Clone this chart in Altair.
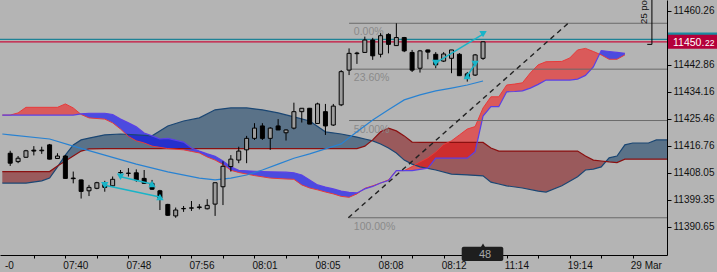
import altair as alt
import pandas as pd

# ---------------- data ----------------
candle_idx = list(range(61))
c_open = [11414.3, 11411.6, 11413.0, 11415.3, 11415.1, 11417.0, 11412.6, 11413.4, 11406.3, 11405.7,
          11402.2, 11403.0, 11404.2, 11403.8, 11408.0, 11407.8, 11408.0, 11406.2, 11404.6, 11402.2,
          11397.8, 11394.1, 11396.4, 11396.6, 11396.8, 11396.4, 11397.9, 11403.5, 11410.0, 11412.1,
          11415.4, 11419.1, 11423.1, 11419.1, 11423.1, 11420.9, 11422.4, 11427.7, 11428.8, 11423.9,
          11427.7, 11423.4, 11429.9, 11441.1, 11446.4, 11446.8, 11450.8, 11446.2, 11452.6, 11449.0,
          11451.6, 11446.8, 11441.7, 11447.6, 11446.2, 11444.0, 11444.9, 11446.2, 11439.9, 11439.5,
          11444.9]
c_high = [11415.1, 11413.4, 11415.4, 11416.6, 11416.4, 11417.3, 11414.3, 11413.7, 11408.4, 11405.8,
          11404.1, 11405.1, 11405.4, 11406.8, 11408.9, 11409.5, 11409.1, 11408.9, 11405.7, 11402.5,
          11398.0, 11396.8, 11397.3, 11398.9, 11397.9, 11399.5, 11404.8, 11411.7, 11413.7, 11416.4,
          11419.9, 11424.0, 11424.0, 11422.7, 11425.3, 11422.0, 11430.6, 11428.8, 11428.9, 11430.6,
          11430.2, 11430.2, 11441.1, 11448.1, 11447.0, 11451.9, 11451.5, 11453.0, 11453.0, 11456.2,
          11451.8, 11447.6, 11447.6, 11447.7, 11446.9, 11446.9, 11447.6, 11446.6, 11440.5, 11446.3,
          11450.4]
c_low = [11410.2, 11411.1, 11412.8, 11413.6, 11414.1, 11412.3, 11412.5, 11406.1, 11404.6, 11399.7,
         11400.5, 11402.7, 11401.9, 11403.5, 11407.3, 11406.8, 11405.1, 11404.5, 11402.5, 11396.0,
         11394.1, 11393.5, 11395.4, 11395.7, 11396.2, 11396.2, 11394.1, 11397.6, 11408.4, 11411.1,
         11411.1, 11418.6, 11418.6, 11415.4, 11421.8, 11418.4, 11422.0, 11424.2, 11423.7, 11423.9,
         11420.2, 11423.1, 11429.5, 11439.5, 11443.1, 11446.7, 11444.4, 11445.2, 11446.5, 11449.0,
         11446.9, 11440.5, 11440.3, 11444.6, 11441.7, 11443.7, 11440.1, 11439.2, 11437.4, 11439.2,
         11444.4]
c_close = [11411.1, 11412.7, 11415.1, 11415.0, 11415.3, 11412.4, 11413.4, 11406.2, 11406.1, 11402.0,
           11403.3, 11404.8, 11403.3, 11405.9, 11408.1, 11407.9, 11405.7, 11404.6, 11402.7, 11399.8,
           11394.3, 11396.0, 11396.5, 11396.7, 11397.0, 11397.5, 11404.8, 11410.1, 11412.4, 11415.0,
           11419.1, 11422.4, 11419.1, 11422.4, 11421.8, 11421.8, 11427.7, 11428.8, 11423.7, 11430.2,
           11423.1, 11429.5, 11440.6, 11446.5, 11446.6, 11450.8, 11445.7, 11452.2, 11449.4, 11451.6,
           11447.3, 11441.1, 11447.3, 11446.9, 11442.8, 11446.3, 11447.6, 11439.3, 11438.6, 11446.0,
           11450.22]

ma_idx = [-1, 0, 5, 8, 12, 16, 20, 24, 26, 28, 30, 32, 34, 36, 38, 40, 42, 44, 46, 48, 50, 52, 54, 56, 58, 60]
ma_val = [11420.5, 11420.2, 11418.9, 11416.6, 11413.7, 11410.8, 11408.3, 11406.3, 11405.7, 11406.3,
          11407.3, 11408.9, 11410.8, 11412.7, 11414.1, 11415.7, 11417.3, 11421.2, 11425.0, 11428.3,
          11431.5, 11433.1, 11434.4, 11435.3, 11436.3, 11437.6]

dark_idx = [-1, 0, 2, 4, 5, 6, 7, 8, 9, 10, 12, 14, 16, 18, 20, 22, 24, 26, 28, 30,
            32, 34, 36, 38, 40, 42, 44, 45, 46, 47, 48, 49, 50, 51, 52, 54, 56, 58, 60, 61,
            62, 63, 65, 67, 68, 70, 72, 73, 74, 75, 76, 77, 78, 79, 81, 82, 84]
span_a = [11404.7, 11404.7, 11404.7, 11405.4, 11406.3, 11409.9, 11413.7, 11417.0, 11418.6, 11419.2,
          11420.2, 11420.5, 11420.2, 11419.9, 11423.1, 11424.7, 11425.7, 11428.3, 11428.9, 11428.9,
          11428.3, 11427.3, 11426.0, 11424.7, 11421.2, 11420.5, 11419.5, 11418.9, 11418.3, 11417.3,
          11416.0, 11414.4, 11412.1, 11410.8, 11409.9, 11408.9, 11407.6, 11407.3, 11407.0, 11405.0,
          11404.4, 11403.8, 11403.1, 11402.1, 11401.8, 11403.8, 11406.7, 11408.9, 11409.2, 11409.9,
          11412.8, 11413.4, 11417.0, 11417.6, 11417.6, 11418.6, 11418.6]
span_b = [11408.4, 11408.4, 11408.4, 11408.4, 11408.4, 11410.2, 11411.8, 11413.4, 11415.0, 11415.7,
          11415.8, 11415.8, 11415.8, 11415.8, 11415.8, 11415.8, 11415.8, 11415.8, 11415.8, 11415.8,
          11415.8, 11415.8, 11415.8, 11415.8, 11415.8, 11415.8, 11415.8, 11416.6, 11418.6, 11421.2,
          11422.4, 11421.5, 11419.9, 11417.9, 11417.8, 11417.8, 11417.8, 11417.8, 11417.8, 11416.0,
          11415.0, 11415.0, 11415.0, 11415.0, 11415.0, 11415.0, 11415.0, 11413.4, 11412.1, 11411.8,
          11411.5, 11411.3, 11412.4, 11412.4, 11412.4, 11412.4, 11412.4]

bright_idx = [-1, 0, 1, 2, 6, 7, 8, 9, 10, 12, 13, 14, 15, 16, 17, 18, 19, 20, 22, 23,
              24, 25, 26, 27, 28, 29, 31, 33, 35, 36, 37, 38, 39, 40, 41, 42, 43, 44, 45, 46,
              47, 48, 49, 50, 51, 52, 53, 54, 55, 56, 57, 58, 59, 60, 61, 62, 63, 64, 65, 66,
              67, 68, 70, 71, 72, 73, 74, 75, 76, 77, 78]
line_red = [11426.6, 11426.6, 11427.3, 11429.1, 11429.1, 11430.2, 11428.9, 11426.8, 11425.7, 11425.3,
            11424.1, 11422.1, 11419.7, 11418.3, 11417.6, 11416.6, 11416.2, 11415.8, 11415.4, 11414.9,
            11414.4, 11413.1, 11412.1, 11410.7, 11408.8, 11408.1, 11407.1, 11406.3, 11406.0, 11405.9,
            11404.1, 11403.1, 11402.5, 11401.8, 11401.2, 11400.4, 11400.1, 11401.2, 11403.0, 11403.8,
            11404.7, 11405.7, 11408.7, 11408.7, 11410.0, 11411.5, 11412.8, 11414.7, 11417.1, 11418.3,
            11420.2, 11422.1, 11422.9, 11428.9, 11432.5, 11432.5, 11436.3, 11436.6, 11437.0, 11440.2,
            11442.8, 11443.8, 11443.9, 11445.0, 11447.6, 11448.1, 11447.1, 11446.0, 11444.6, 11444.6,
            11446.0]
line_blue = [11426.6, 11426.6, 11426.6, 11426.6, 11426.6, 11426.6, 11426.6, 11427.0, 11427.2, 11427.2,
             11426.8, 11425.3, 11424.1, 11422.8, 11420.8, 11419.9, 11418.9, 11419.1, 11417.9, 11416.0,
             11415.0, 11414.1, 11413.3, 11411.8, 11409.9, 11408.8, 11408.5, 11408.3, 11408.2, 11408.0,
             11407.3, 11405.7, 11404.1, 11403.4, 11402.8, 11402.1, 11401.7, 11401.5, 11402.8, 11403.6,
             11404.7, 11405.5, 11408.7, 11408.7, 11408.7, 11409.1, 11409.5, 11412.7, 11412.7, 11412.7,
             11412.7, 11412.7, 11414.8, 11426.3, 11429.3, 11429.3, 11434.1, 11434.2, 11434.4, 11435.3,
             11436.5, 11437.9, 11437.9, 11437.9, 11438.2, 11439.4, 11442.1, 11447.4, 11447.1, 11446.8,
             11446.5]

fib_high = 11456.2
fib_low = 11393.5
fib_ratios = [0.0, 23.6, 50.0, 100.0]
fib_start = 43
fib_label_x = 43.6

trend_x = [42.9, 70.8]
trend_y = [11393.5, 11456.2]

seg_x0 = [14, 12, 54, 58]
seg_y0 = [11406.7, 11404.0, 11443.4, 11439.2]
seg_x1 = [18, 19, 60, 59]
seg_y1 = [11404.4, 11400.2, 11452.7, 11443.1]
arrow_dn_x = [12, 14, 54, 60, 59]
arrow_dn_y = [11404.0, 11406.7, 11443.4, 11452.7, 11443.1]
arrow_up_x = [18, 19, 58]
arrow_up_y = [11404.4, 11400.2, 11439.2]

ask_price = 11451.0
bid_price = 11450.22
spread_text = "25 po"
spread_top = 11464.5
spread_bottom = 11449.4
spread_x = 81.43
spread_tick_x = 80.84
spread_text_x = 80.78
spread_text_y = 11456.0
bar_count_text = "48"

# 11451.56 sits under the bid price tag in the reference, so it is not drawn
y_ticks = [11390.65, 11399.35, 11408.05, 11416.76, 11425.46, 11434.16, 11442.86, 11460.26]
x_ticks = list(range(3, 80, 4))
x_label_idx = [7, 15, 23, 31, 39, 47, 55, 63, 71, 79]
x_label_txt = ["07:40", "07:48", "07:56", "08:01", "08:05", "08:08", "08:12", "11:14", "19:14", "29 Mar"]
left_clipped_label = "-0"

X_DOMAIN = [-0.66, 82.71]
Y_DOMAIN = [11381.5, 11463.7]

FONT = "Liberation Sans"
BG = "#b4b4b4"

# ---------------- scales & axes ----------------
xs = alt.Scale(domain=X_DOMAIN, nice=False, zero=False)
ys = alt.Scale(domain=Y_DOMAIN, nice=False, zero=False)

label_expr = " : ".join(f"datum.value == {v} ? '{t}'" for v, t in zip(x_label_idx, x_label_txt)) + " : ''"
x_axis = alt.Axis(values=x_ticks, labelExpr=label_expr, title=None, grid=False, tickSize=3,
                  labelAlign="left", labelOffset=-2.5, labelPadding=10.5, labelBaseline="alphabetic",
                  domainColor="black", tickColor="black", labelColor="#111111", labelFontSize=10,
                  labelFont=FONT, labelOverlap=False, labelFlush=False)
y_axis = alt.Axis(values=y_ticks, format=".2f", orient="right", title=None, grid=False, tickSize=4,
                  labelPadding=2, labelBaseline="middle", domainColor="black", tickColor="black",
                  labelColor="#111111", labelFontSize=10, labelFont=FONT, labelOverlap=False, labelFlush=False)


def X(f):
    return alt.X(f, type="quantitative", scale=xs, axis=x_axis)


def Y(f):
    return alt.Y(f, type="quantitative", scale=ys, axis=y_axis)


def cloud_frame(idx, up, dn):
    xs_, ua, da = [], [], []
    for k in range(len(idx)):
        if k > 0:
            d0 = up[k - 1] - dn[k - 1]
            d1 = up[k] - dn[k]
            if d0 * d1 < 0:
                t = d0 / (d0 - d1)
                xs_.append(idx[k - 1] + t * (idx[k] - idx[k - 1]))
                v = up[k - 1] + t * (up[k] - up[k - 1])
                ua.append(v)
                da.append(v)
        xs_.append(idx[k])
        ua.append(up[k])
        da.append(dn[k])
    df = pd.DataFrame({"x": xs_, "u": ua, "d": da})
    df["hi"] = df[["u", "d"]].max(axis=1)
    return df


one = pd.DataFrame({"a": [0]})

# ---------------- clouds ----------------
dk = cloud_frame(dark_idx, span_a, span_b)
br = cloud_frame(bright_idx, line_red, line_blue)

dark_up = alt.Chart(dk).mark_area(color="#5a7288", clip=True).encode(x=X("x"), y=Y("hi"), y2="d:Q")
dark_dn = alt.Chart(dk).mark_area(color="#9a5a5c", clip=True).encode(x=X("x"), y=Y("hi"), y2="u:Q")
br_red = alt.Chart(br).mark_area(color="#ff0000", opacity=0.5, clip=True).encode(x=X("x"), y=Y("hi"), y2="d:Q")
br_blue = alt.Chart(br).mark_area(color="#0000ff", opacity=0.58, clip=True).encode(x=X("x"), y=Y("hi"), y2="u:Q")

dark_df = pd.DataFrame({"x": dark_idx, "a": span_a, "b": span_b})
line_a = alt.Chart(dark_df).mark_line(color="#1a4673", strokeWidth=1.2, clip=True).encode(x=X("x"), y=Y("a"))
line_b = alt.Chart(dark_df).mark_line(color="#8b1010", strokeWidth=1.2, clip=True).encode(x=X("x"), y=Y("b"))
bright_df = pd.DataFrame({"x": bright_idx, "r": line_red, "b": line_blue})
line_r = alt.Chart(bright_df).mark_line(color="#e83a3a", strokeWidth=1, clip=True).encode(x=X("x"), y=Y("r"))
line_bl = alt.Chart(bright_df).mark_line(color="#5a40e6", strokeWidth=1.2, clip=True).encode(x=X("x"), y=Y("b"))

# ---------------- fibonacci ----------------
fib_df = pd.DataFrame({
    "p": [fib_high - r / 100 * (fib_high - fib_low) for r in fib_ratios],
    "t": [f"{r:.2f}%" for r in fib_ratios],
    "x0": [fib_start] * len(fib_ratios),
    "x1": [X_DOMAIN[1] + 2] * len(fib_ratios),
    "xl": [fib_label_x] * len(fib_ratios),
})
fib_rules = alt.Chart(fib_df).mark_rule(color="#6a6a6a", strokeWidth=1, clip=True).encode(
    x=X("x0"), x2="x1:Q", y=Y("p"))
fib_text = alt.Chart(fib_df).mark_text(align="left", baseline="alphabetic", dy=12, color="#8a8a8a",
                                       fontSize=10.5, font=FONT).encode(x=X("xl"), y=Y("p"), text="t:N")

# ---------------- moving average ----------------
ma_df = pd.DataFrame({"x": ma_idx, "v": ma_val})
ma_line = alt.Chart(ma_df).mark_line(color="#2882d2", strokeWidth=1.2, clip=True).encode(x=X("x"), y=Y("v"))

# ---------------- bid / ask ----------------
ba_df = pd.DataFrame({"p": [ask_price, bid_price], "c": ["ask", "bid"]})
ba_lines = alt.Chart(ba_df).mark_rule(strokeWidth=1.3).encode(
    y=Y("p"), color=alt.Color("c:N", scale=alt.Scale(domain=["ask", "bid"], range=["#1e8296", "#c8103c"]), legend=None))

# ---------------- candles ----------------
cdf = pd.DataFrame({"i": candle_idx, "o": c_open, "h": c_high, "l": c_low, "c": c_close})
wicks = alt.Chart(cdf).mark_rule(color="black", strokeWidth=1).encode(x=X("i"), y=Y("l"), y2="h:Q")
bodies = alt.Chart(cdf).mark_bar(width=4, stroke="black", strokeWidth=1).encode(
    x=X("i"), y=Y("o"), y2="c:Q",
    fill=alt.condition("datum.c >= datum.o", alt.value("#9c9c9c"), alt.value("#000000")))

# ---------------- trend line ----------------
tr_df = pd.DataFrame({"x": trend_x, "y": trend_y})
trend = alt.Chart(tr_df).mark_line(color="#222222", strokeWidth=1.4, strokeDash=[5, 4], clip=True).encode(
    x=X("x"), y=Y("y"))

# ---------------- cyan arrows ----------------
seg_df = pd.DataFrame({"x0": seg_x0, "y0": seg_y0, "x1": seg_x1, "y1": seg_y1})
segs = alt.Chart(seg_df).mark_rule(color="#19b4c8", strokeWidth=1.5).encode(
    x=X("x0"), y=Y("y0"), x2="x1:Q", y2="y1:Q")
dn_df = pd.DataFrame({"x": arrow_dn_x, "y": arrow_dn_y})
up_df = pd.DataFrame({"x": arrow_up_x, "y": arrow_up_y})
arr_dn = alt.Chart(dn_df).mark_point(shape="triangle-down", filled=True, size=55, color="#19b4c8", opacity=1).encode(
    x=X("x"), y=Y("y"))
arr_up = alt.Chart(up_df).mark_point(shape="triangle-up", filled=True, size=55, color="#19b4c8", opacity=1).encode(
    x=X("x"), y=Y("y"))

# ---------------- annotations ----------------
sp_df = pd.DataFrame({"x": [spread_x], "xt": [spread_tick_x], "top": [spread_top], "bot": [spread_bottom],
                      "tx": [spread_text_x], "ty": [spread_text_y], "t": [spread_text]})
sp_v = alt.Chart(sp_df).mark_rule(color="black", strokeWidth=1).encode(x=X("x"), y=Y("bot"), y2="top:Q")
sp_h = alt.Chart(sp_df).mark_rule(color="black", strokeWidth=1).encode(x=X("xt"), x2="x:Q", y=Y("bot"))
sp_t = alt.Chart(sp_df).mark_text(angle=270, align="left", baseline="alphabetic", fontSize=9.5, font=FONT,
                                  color="#111111").encode(x=X("tx"), y=Y("ty"), text="t:N")

box_df = pd.DataFrame({"p": [ask_price, bid_price], "c": ["ask", "bid"]})
boxes = alt.Chart(box_df).mark_rule(strokeWidth=14).encode(
    x=alt.value(668), x2=alt.value(717), y=Y("p"),
    color=alt.Color("c:N", scale=alt.Scale(domain=["ask", "bid"], range=["#1a8aa0", "#b4003a"]), legend=None))
bid_int, bid_dec = f"{bid_price:.2f}".split(".")
pt_df = pd.DataFrame({"p": [bid_price], "a": [bid_int + "."], "b": [bid_dec]})
price_big = alt.Chart(pt_df).mark_text(align="left", baseline="alphabetic", dy=3.8, color="white",
                                       fontSize=10.5, font=FONT).encode(x=alt.value(673), y=Y("p"), text="a:N")
price_small = alt.Chart(pt_df).mark_text(align="left", baseline="alphabetic", dy=3.8, color="white",
                                         fontSize=8.5, font=FONT).encode(x=alt.value(705), y=Y("p"), text="b:N")

cnt_box = alt.Chart(one).mark_rect(color="#1e1e1e", cornerRadius=2).encode(
    x=alt.value(461.7), x2=alt.value(503.3), y=alt.value(246.7), y2=alt.value(261))
cnt_notch = alt.Chart(one).mark_point(shape="triangle-up", filled=True, size=22, color="#1e1e1e", opacity=1).encode(
    x=alt.value(483), y=alt.value(245.5))
cnt_text = alt.Chart(pd.DataFrame({"t": [bar_count_text]})).mark_text(
    align="center", baseline="alphabetic", color="#a8a8a8", fontSize=11, font=FONT).encode(
    x=alt.value(485), y=alt.value(258), text="t:N")

left_lab = alt.Chart(pd.DataFrame({"x": [X_DOMAIN[0]], "t": [left_clipped_label]})).mark_text(
    align="left", baseline="alphabetic", fontSize=10, font=FONT, color="#111111").encode(
    x=X("x"), y=alt.value(268.7), text="t:N")

chart = alt.layer(
    dark_up, dark_dn, br_red, br_blue, line_a, line_b, line_r, line_bl,
    fib_rules, fib_text, ma_line, ba_lines, wicks, bodies, trend,
    segs, arr_dn, arr_up, sp_v, sp_h, sp_t, boxes, price_big, price_small,
    cnt_box, cnt_notch, cnt_text, left_lab
).resolve_scale(color="independent").properties(
    width=667, height=255,
    padding={"left": 0, "top": 0, "right": 50, "bottom": 17},
    autosize=alt.AutoSizeParams(type="none"),
    background=BG,
).configure_view(stroke=None, fill=BG).configure_axis(grid=False)

chart.save("out.html", embed_options={"renderer": "svg", "actions": False})
